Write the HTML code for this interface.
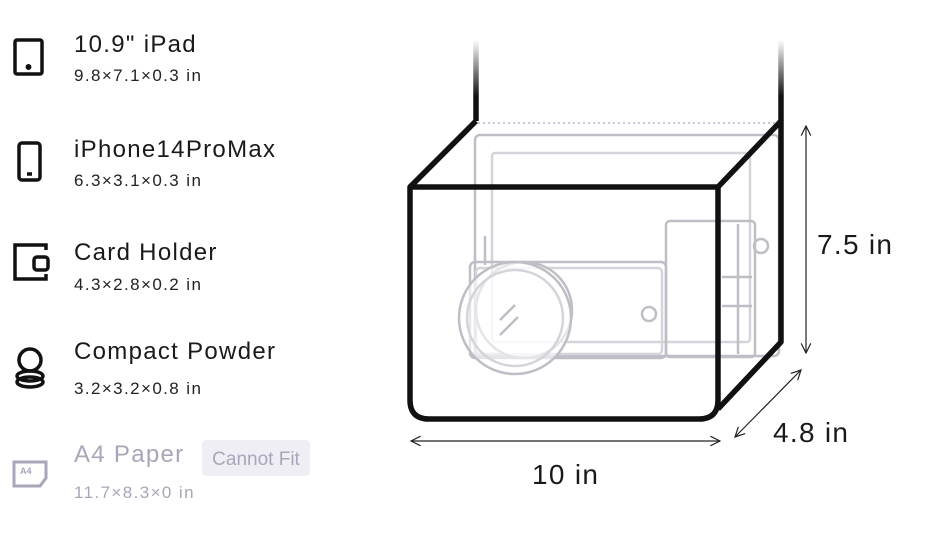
<!DOCTYPE html><html><head><meta charset="utf-8"><style>
body{margin:0;width:938px;height:533px;background:#fff;overflow:hidden;font-family:"Liberation Sans",sans-serif;position:relative}
.t{position:absolute;left:74px;font-size:24px;letter-spacing:1.3px;color:#1a1a1a;white-space:nowrap}
.s{position:absolute;left:74px;font-size:17px;letter-spacing:1.4px;color:#222;white-space:nowrap}
.g{color:#a8a6b8}
.badge{position:absolute;left:202px;top:440px;width:108px;height:36px;background:#efeef5;border-radius:4px;color:#a8a6b8;font-size:19px;line-height:40px;text-align:center}
</style></head><body>
<div class="t" style="top:31px">10.9" iPad</div><div class="s" style="top:66px">9.8×7.1×0.3 in</div>
<div class="t" style="top:136px">iPhone14ProMax</div><div class="s" style="top:171px">6.3×3.1×0.3 in</div>
<div class="t" style="top:239px">Card Holder</div><div class="s" style="top:275px">4.3×2.8×0.2 in</div>
<div class="t" style="top:338px">Compact Powder</div><div class="s" style="top:379px">3.2×3.2×0.8 in</div>
<div class="t g" style="top:441px">A4 Paper</div><div class="s g" style="top:483px">11.7×8.3×0 in</div>
<div class="badge">Cannot Fit</div>
<svg width="938" height="533" style="position:absolute;left:0;top:0">
<defs><linearGradient id="f" gradientUnits="userSpaceOnUse" x1="0" y1="40" x2="0" y2="121"><stop offset="0" stop-color="#111" stop-opacity="0"/><stop offset="0.7" stop-color="#111"/></linearGradient>
<marker id="a" markerWidth="10" markerHeight="10" refX="9" refY="5" orient="auto-start-reverse"><path d="M1,1 L9,5 L1,9" fill="none" stroke="#222" stroke-width="1"/></marker></defs>
<g fill="none" stroke="#111" stroke-width="3.5">
<rect x="15" y="40" width="27" height="34" rx="2"/><circle cx="28.5" cy="67" r="1.2" fill="#111"/>
<rect x="19" y="143" width="21" height="37" rx="3"/><line x1="27" y1="174" x2="32" y2="174"/>
<path d="M46,250 V245 H15 V279 H46 V274"/><rect x="34" y="257" width="14" height="13" rx="3"/>
<circle cx="30" cy="360" r="11"/><ellipse cx="30" cy="376" rx="13" ry="5"/><ellipse cx="30" cy="382" rx="13" ry="5"/>
</g>
<g fill="none" stroke="#a8a6b8" stroke-width="3"><path d="M14,462 H46 V478 L40,486 H14 Z"/></g>
<text x="20" y="474" font-size="9" fill="#a8a6b8" font-weight="bold">A4</text>
<g fill="none" stroke="#b8b7c0" stroke-width="2.5" opacity="0.9">
<rect x="475" y="135" width="304" height="221" rx="5"/>
<rect x="492" y="153" width="258" height="189" rx="3" stroke="#d0d0d6"/>
<line x1="485" y1="236" x2="485" y2="265"/>
<rect x="470" y="262" width="196" height="96" rx="5"/>
<rect x="476" y="268" width="186" height="86" rx="4" stroke="#d0d0d6"/>
<circle cx="649" cy="314" r="7"/>
<rect x="666" y="221" width="89" height="136" rx="4"/>
<line x1="738" y1="224" x2="738" y2="354"/>
<circle cx="761" cy="246" r="7"/>
<line x1="722" y1="277" x2="752" y2="277"/><line x1="722" y1="306" x2="752" y2="306"/>
<circle cx="524" cy="310" r="48" fill="#fff" fill-opacity="0.6"/>
<circle cx="515" cy="318" r="56" fill="#fff" fill-opacity="0.6"/>
<circle cx="515" cy="318" r="48" stroke="#d0d0d6"/>
<line x1="500" y1="320" x2="515" y2="305"/><line x1="500" y1="335" x2="518" y2="317"/>
</g>
<line x1="478" y1="123" x2="779" y2="123" stroke="#b8b7d0" stroke-width="1.5" stroke-dasharray="2,3"/>
<g stroke-width="5.5" fill="none" stroke-linejoin="round">
<line x1="476" y1="40" x2="476" y2="121" stroke="url(#f)"/>
<line x1="781" y1="40" x2="781" y2="121" stroke="url(#f)"/>
<g stroke="#111">
<path d="M410,187 L476,121"/><path d="M718,187 L781,121 V342 L718,409"/>
<path d="M410,187 H718 V400 Q718,419 699,419 H429 Q410,419 410,400 Z"/>
</g></g>
<g stroke="#222" stroke-width="1.2">
<line x1="806" y1="126" x2="806" y2="353" marker-start="url(#a)" marker-end="url(#a)"/>
<line x1="411" y1="441" x2="720" y2="441" marker-start="url(#a)" marker-end="url(#a)"/>
<line x1="735" y1="437" x2="801" y2="370" marker-start="url(#a)" marker-end="url(#a)"/>
</g>
<g font-size="28" fill="#1a1a1a" letter-spacing="1.3"><text x="817" y="254">7.5 in</text><text x="773" y="442">4.8 in</text><text x="532" y="484">10 in</text></g>
</svg></body></html>
